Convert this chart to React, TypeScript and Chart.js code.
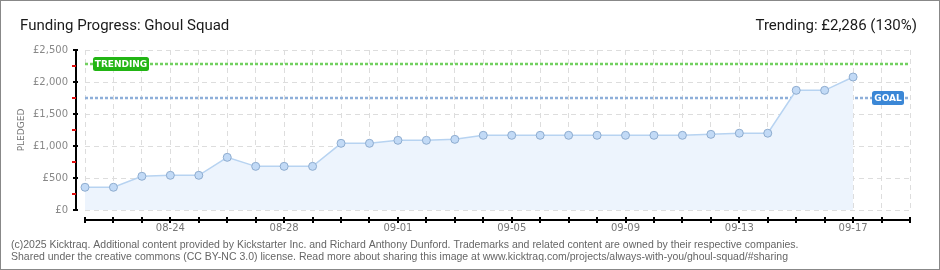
import React, { useEffect, useRef } from 'react';
import { Chart, registerables } from 'chart.js';

Chart.register(...registerables);

const dates = [
  '08-21', '08-22', '08-23', '08-24', '08-25', '08-26', '08-27', '08-28', '08-29', '08-30',
  '08-31', '09-01', '09-02', '09-03', '09-04', '09-05', '09-06', '09-07', '09-08', '09-09',
  '09-10', '09-11', '09-12', '09-13', '09-14', '09-15', '09-16', '09-17', '09-18', '09-19',
];
const xTickLabels = ['08-24', '08-28', '09-01', '09-05', '09-09', '09-13', '09-17'];
const pledged: (number | null)[] = [
  355, 355, 527, 542, 542, 823, 682, 682, 682, 1042,
  1042, 1089, 1089, 1104, 1167, 1167, 1167, 1167, 1167, 1167,
  1167, 1167, 1182, 1200, 1200, 1870, 1870, 2078, null, null,
];
const yMax = 2500;
const yStep = 500;
const goal = 1750;
const trending = 2286;
const trendingPct = 130;
const title = 'Funding Progress: Ghoul Squad';
const footer1 =
  '(c)2025 Kicktraq. Additional content provided by Kickstarter Inc. and Richard Anthony Dunford. Trademarks and related content are owned by their respective companies.';
const footer2 =
  'Shared under the creative commons (CC BY-NC 3.0) license. Read more about sharing this image at www.kicktraq.com/projects/always-with-you/ghoul-squad/#sharing';

const fmt = (v: number) => '£' + v.toLocaleString('en-US');

function roundRect(ctx: CanvasRenderingContext2D, x: number, y: number, w: number, h: number, r: number) {
  ctx.beginPath();
  ctx.moveTo(x + r, y);
  ctx.lineTo(x + w - r, y);
  ctx.quadraticCurveTo(x + w, y, x + w, y + r);
  ctx.lineTo(x + w, y + h - r);
  ctx.quadraticCurveTo(x + w, y + h, x + w - r, y + h);
  ctx.lineTo(x + r, y + h);
  ctx.quadraticCurveTo(x, y + h, x, y + h - r);
  ctx.lineTo(x, y + r);
  ctx.quadraticCurveTo(x, y, x + r, y);
  ctx.closePath();
}

const decor = {
  id: 'decor',
  beforeDatasetsDraw(chart: any) {
    const { ctx, chartArea: a, scales } = chart;
    const y = scales.y;
    ctx.save();
    const refLine = (v: number, color: string) => {
      const py = Math.round(y.getPixelForValue(v));
      ctx.strokeStyle = color;
      ctx.lineWidth = 2.5;
      ctx.setLineDash([3, 2]);
      ctx.beginPath();
      ctx.moveTo(a.left, py);
      ctx.lineTo(a.right, py);
      ctx.stroke();
    };
    refLine(trending, '#72d060');
    refLine(goal, '#8eafd9');
    ctx.restore();
  },
  afterDraw(chart: any) {
    const { ctx, chartArea: a, scales } = chart;
    const x = scales.x;
    const y = scales.y;
    ctx.save();
    ctx.setLineDash([]);

    // y axis
    const axX = a.left - 10;
    ctx.fillStyle = '#000';
    ctx.fillRect(axX, Math.round(y.getPixelForValue(yMax)) - 1, 2, Math.round(y.getPixelForValue(0) - y.getPixelForValue(yMax)) + 2);
    for (let v = 0; v <= yMax; v += yStep) {
      const py = Math.round(y.getPixelForValue(v));
      ctx.fillStyle = '#000';
      ctx.fillRect(axX - 2, py - 1, 5, 2);
      if (v + yStep / 2 < yMax) {
        const pm = Math.round(y.getPixelForValue(v + yStep / 2));
        ctx.fillStyle = '#e01010';
        ctx.fillRect(axX - 3, pm - 1, 4, 2);
      }
    }

    // x axis
    const axY = a.bottom + 9;
    ctx.fillStyle = '#000';
    ctx.fillRect(a.left, axY, a.right - a.left + 1, 2);
    for (let i = 0; i < dates.length; i++) {
      const px = Math.round(x.getPixelForValue(i));
      ctx.fillRect(px - 1, axY - 2, 2, 6);
    }

    // y title
    ctx.save();
    ctx.translate(22, (a.top + a.bottom) / 2);
    ctx.rotate(-Math.PI / 2);
    ctx.fillStyle = '#777';
    ctx.font = '9px "DejaVu Sans"';
    ctx.textAlign = 'center';
    ctx.textBaseline = 'middle';
    ctx.fillText('PLEDGED', 0, 0);
    ctx.restore();

    // tags
    const tag = (text: string, color: string, left: number, v: number, w: number) => {
      const py = Math.round(y.getPixelForValue(v));
      ctx.fillStyle = color;
      roundRect(ctx, left, py - 7, w, 14, 2.5);
      ctx.fill();
      ctx.fillStyle = '#fff';
      ctx.font = 'bold 9px "DejaVu Sans"';
      ctx.textAlign = 'center';
      ctx.textBaseline = 'middle';
      ctx.fillText(text, left + w / 2, py + 0.5);
    };
    tag('TRENDING', '#22b514', a.left + 8, trending, 56);
    tag('GOAL', '#3b87d6', a.right - 38, goal, 32);

    // titles
    ctx.fillStyle = '#1a1a1a';
    ctx.font = '15px Roboto';
    ctx.textAlign = 'left';
    ctx.textBaseline = 'alphabetic';
    ctx.fillText(title, 20, 30);
    ctx.textAlign = 'right';
    ctx.fillText('Trending: ' + fmt(trending) + ' (' + trendingPct + '%)', 917, 30);

    // footer
    ctx.fillStyle = '#666';
    ctx.font = '10.5px "Liberation Sans"';
    ctx.textAlign = 'left';
    ctx.fillText(footer1, 11, 248);
    ctx.fillText(footer2, 11, 260);

    // border
    ctx.strokeStyle = '#888';
    ctx.lineWidth = 1;
    ctx.strokeRect(0.5, 0.5, chart.width - 1, chart.height - 1);
    ctx.restore();
  },
};

export default function App() {
  const ref = useRef<HTMLCanvasElement>(null);
  useEffect(() => {
    document.body.style.margin = '0';
    const canvas = ref.current!;
    const chart = new Chart(canvas, {
      type: 'line',
      data: {
        labels: dates,
        datasets: [
          {
            data: pledged,
            fill: 'origin',
            backgroundColor: '#edf4fd',
            borderColor: '#b7d3f1',
            borderWidth: 1.5,
            pointRadius: 4,
            pointBackgroundColor: '#c2daf6',
            pointBorderColor: '#8eaccf',
            pointBorderWidth: 1,
            tension: 0,
            spanGaps: false,
          },
        ],
      },
      options: {
        responsive: false,
        animation: false,
        layout: { padding: { top: 50, right: 30, bottom: 0, left: 0 } },
        plugins: { legend: { display: false }, tooltip: { enabled: false } },
        scales: {
          x: {
            type: 'category',
            offset: false,
            afterFit: (s: any) => {
              s.height = 60;
            },
            grid: { color: '#dddddd', lineWidth: 1, drawTicks: false, tickLength: 0 },
            border: { display: false, dash: [5, 4] },
            ticks: {
              autoSkip: false,
              maxRotation: 0,
              padding: 12,
              color: '#777',
              font: { family: 'DejaVu Sans', size: 10 },
              callback: (_v: any, i: number) => (xTickLabels.includes(dates[i]) ? dates[i] : ''),
            },
          },
          y: {
            min: 0,
            max: yMax,
            afterFit: (s: any) => {
              s.width = 85;
            },
            grid: { color: '#dddddd', lineWidth: 1, drawTicks: false, tickLength: 0 },
            border: { display: false, dash: [5, 4] },
            ticks: {
              stepSize: yStep,
              padding: 17,
              color: '#888',
              font: { family: 'DejaVu Sans', size: 10 },
              callback: (v: any) => fmt(Number(v)),
            },
          },
        },
      },
      plugins: [decor],
    });
    return () => chart.destroy();
  }, []);
  return (
    <div style={{ position: 'absolute', left: 0, top: 0, width: 940, height: 270, background: '#fff' }}>
      <canvas ref={ref} width={940} height={270} style={{ display: 'block', width: 940, height: 270 }} />
    </div>
  );
}
